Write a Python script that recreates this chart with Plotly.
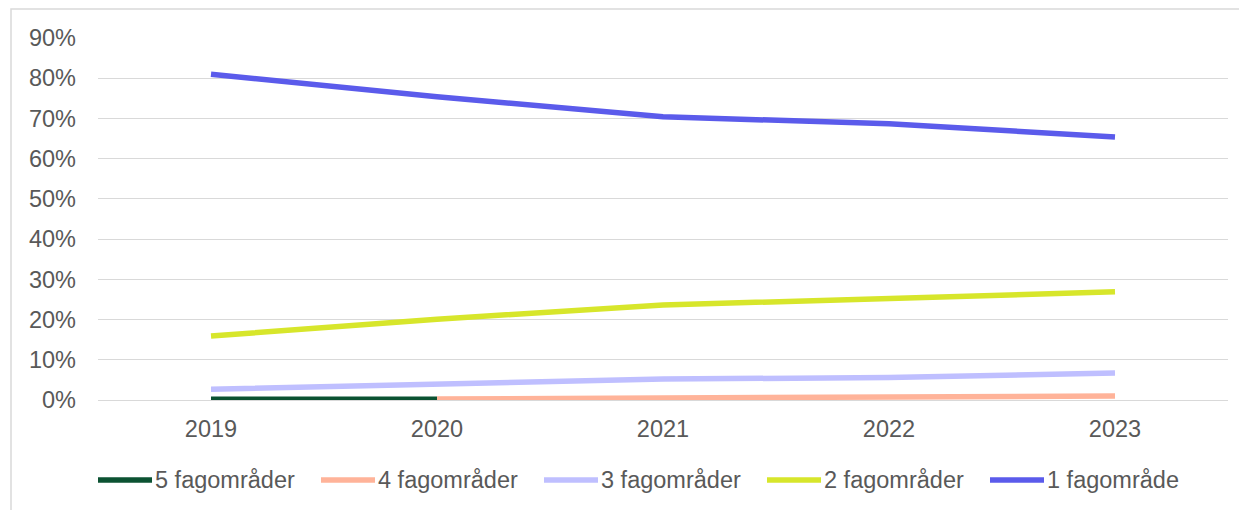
import plotly.graph_objects as go

years = ["2019", "2020", "2021", "2022", "2023"]

# share of candidates per number of subject areas (fagområder)
five_areas = [0.2, 0.2, None, None, None]
four_areas = [None, 0.25, 0.5, 0.7, 1.0]
three_areas = [2.7, 4.0, 5.2, 5.6, 6.7]
two_areas = [15.9, 20.1, 23.6, 25.1, 26.9]
one_area = [81.0, 75.4, 70.4, 68.7, 65.4]

series = [
    ("5 fagområder", five_areas, "#0B5232"),
    ("4 fagområder", four_areas, "#FFB399"),
    ("3 fagområder", three_areas, "#BFBFFF"),
    ("2 fagområder", two_areas, "#D7E62B"),
    ("1 fagområde", one_area, "#5B5BEB"),
]

y_ticks = list(range(0, 100, 10))
y_labels = [f"{v}%" for v in y_ticks]

# page has an 8px body margin; plot area spans x 98..1228, y 38..400 on the page
L, T, PW, PH = 98, 38, 1130, 362


def px(x):
    return (x - L) / PW


def py(y):
    return (T + PH - y) / PH


fig = go.Figure()
for name, vals, color in series:
    fig.add_trace(go.Scatter(
        x=years, y=vals, name=name, mode="lines",
        line=dict(color=color, width=5.5),
        connectgaps=False, showlegend=False,
    ))

# custom legend with long swatches, like the original
shapes = [dict(type="rect", xref="paper", yref="paper",
               x0=px(11), x1=px(1246), y0=py(515), y1=py(9),
               line=dict(color="#D9D9D9", width=1.5), layer="below")]
annotations = []
for i, (name, vals, color) in enumerate(series):
    x0 = 98 + 223 * i
    shapes.append(dict(type="line", xref="paper", yref="paper",
                       x0=px(x0), x1=px(x0 + 54), y0=py(480), y1=py(480),
                       line=dict(color=color, width=5.5)))
    annotations.append(dict(xref="paper", yref="paper", x=px(x0 + 55), y=py(480),
                            text=name, showarrow=False, xanchor="left",
                            yanchor="middle", font=dict(size=23.5, color="#595959")))

fig.update_layout(
    width=1239, height=502,
    margin=dict(l=L - 8, r=19, t=T - 8, b=110),
    paper_bgcolor="white", plot_bgcolor="white",
    font=dict(family="Liberation Sans, Arial, sans-serif", size=23.5, color="#595959"),
    showlegend=False,
    xaxis=dict(type="category", showgrid=False, showline=False, ticks="",
               range=[-0.5, 4.5], ticklabelstandoff=12),
    yaxis=dict(range=[0, 90], tickvals=y_ticks, ticktext=y_labels,
               showgrid=True, gridcolor="#D9D9D9", gridwidth=1,
               zeroline=True, zerolinecolor="#D9D9D9", zerolinewidth=1,
               showline=False, ticks="", ticklabelstandoff=21),
    shapes=shapes,
    annotations=annotations,
)

fig.write_html("out.html")
